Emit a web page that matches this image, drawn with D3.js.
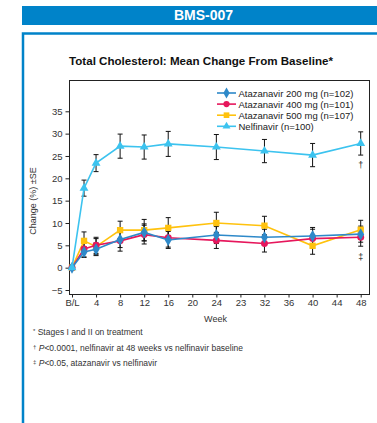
<!DOCTYPE html>
<html>
<head>
<meta charset="utf-8">
<script src="https://cdn.jsdelivr.net/npm/d3@7"></script>
<style>
  body { margin: 0; background: #fff; }
  svg { display: block; font-family: "Liberation Sans", Arial, sans-serif; }
</style>
</head>
<body>
<svg></svg>
<script>
const width = 377;
const height = 423;

const weeks = [0, 2, 4, 8, 12, 16, 24, 32, 40, 48];
const xTicks = [0, 4, 8, 12, 16, 20, 24, 28, 32, 36, 40, 44, 48];
const xTickLabels = ['B/L', '4', '8', '12', '16', '20', '24', '23', '32', '36', '40', '44', '48'];
const yTicks = [-5, 0, 5, 10, 15, 20, 25, 30, 35];

const seriesNames = ['Atazanavir 200 mg (n=102)', 'Atazanavir 400 mg (n=101)', 'Atazanavir 500 mg (n=107)', 'Nelfinavir (n=100)'];
const ata200 = [0, 3.5, 4.1, 6.3, 7.9, 6.2, 7.3, 6.8, 7.1, 7.5];
const ata200Se = [0, 1.2, 1.4, 1.8, 1.9, 1.9, 1.9, 1.8, 1.9, 1.8];
const ata400 = [0, 4.2, 5.0, 6.0, 7.4, 6.7, 6.1, 5.4, 6.5, 6.8];
const ata400Se = [0, 1.8, 1.8, 2.3, 2.1, 2.1, 1.8, 1.9, 2.1, 2.0];
const ata500 = [0, 6.0, 4.7, 8.4, 8.4, 8.9, 10.0, 9.4, 4.9, 8.5];
const ata500Se = [0, 2.0, 1.8, 2.0, 2.4, 2.3, 2.4, 2.1, 1.9, 2.1];
const nelf = [0, 17.8, 23.4, 27.2, 27.0, 27.7, 27.0, 26.1, 25.2, 27.8];
const nelfSe = [0, 1.8, 1.9, 2.7, 2.7, 2.8, 2.8, 2.6, 2.6, 2.6];

const blue = '#0083c9';

window.onload = () => {
  const svg = d3.select('svg')
      .attr('width', width)
      .attr('height', height);

  // header band and frame
  svg.append('rect')
      .attr('x', 22).attr('y', 6).attr('width', 355).attr('height', 19)
      .attr('fill', blue);
  svg.append('text')
      .attr('x', 203.5).attr('y', 20)
      .attr('text-anchor', 'middle')
      .attr('fill', '#fff')
      .attr('font-weight', 'bold')
      .attr('font-size', '14px')
      .text('BMS-007');
  svg.append('path')
      .attr('d', 'M23,423V33.5H377')
      .attr('fill', 'none')
      .attr('stroke', blue)
      .attr('stroke-width', 2.5);

  svg.append('text')
      .attr('x', 201).attr('y', 65)
      .attr('text-anchor', 'middle')
      .attr('font-weight', 'bold')
      .attr('font-size', '11.6px')
      .attr('fill', '#111')
      .text('Total Cholesterol: Mean Change From Baseline*');

  const x = d3.scaleLinear().domain([0, 48]).range([72, 360.7]);
  const y = d3.scaleLinear().domain([-5, 35]).range([290, 111.3]);

  const boxLeft = 69.5, boxRight = 369.5, boxTop = 80.5, boxBottom = 294.5;
  svg.append('rect')
      .attr('x', boxLeft).attr('y', boxTop)
      .attr('width', boxRight - boxLeft).attr('height', boxBottom - boxTop)
      .attr('fill', 'none')
      .attr('stroke', '#222')
      .attr('stroke-width', 1);

  const yAxis = svg.append('g')
      .attr('transform', `translate(${boxLeft},0)`)
      .call(d3.axisLeft(y).tickValues(yTicks).tickSize(4).tickPadding(3));
  yAxis.select('.domain').remove();

  const xAxis = svg.append('g')
      .attr('transform', `translate(0,${boxBottom})`)
      .call(d3.axisBottom(x).tickValues(xTicks).tickSize(3).tickPadding(2)
        .tickFormat((d, i) => xTickLabels[i]));
  xAxis.select('.domain').remove();

  svg.selectAll('.tick line').attr('stroke', '#222');
  svg.selectAll('.tick text')
      .attr('font-family', '"Liberation Sans", Arial, sans-serif')
      .attr('font-size', '9.5px')
      .attr('fill', '#333');

  svg.append('text')
      .attr('transform', 'translate(36,201) rotate(-90)')
      .attr('text-anchor', 'middle')
      .attr('font-size', '9px')
      .attr('fill', '#333')
      .text('Change (%) \u00b1SE');

  svg.append('text')
      .attr('x', 215.5).attr('y', 321.5)
      .attr('text-anchor', 'middle')
      .attr('font-size', '9px')
      .attr('fill', '#333')
      .text('Week');

  const series = [
    { name: seriesNames[2], values: ata500, se: ata500Se, color: '#ffc20e', symbol: d3.symbolSquare, size: 40 },
    { name: seriesNames[1], values: ata400, se: ata400Se, color: '#e6175c', symbol: d3.symbolCircle, size: 38 },
    { name: seriesNames[0], values: ata200, se: ata200Se, color: '#2e89c9', symbol: d3.symbolDiamond, size: 42 },
    { name: seriesNames[3], values: nelf, se: nelfSe, color: '#3cc3ef', symbol: d3.symbolTriangle, size: 34 }
  ];

  // error bars
  series.forEach(s => {
    const g = svg.append('g').attr('stroke', '#111').attr('stroke-width', 1);
    weeks.forEach((w, i) => {
      if (!s.se[i]) return;
      const cx = x(w);
      const y1 = y(s.values[i] + s.se[i]);
      const y2 = y(s.values[i] - s.se[i]);
      g.append('path')
          .attr('d', `M${cx},${y1}V${y2}M${cx - 2.5},${y1}H${cx + 2.5}M${cx - 2.5},${y2}H${cx + 2.5}`)
          .attr('fill', 'none');
    });
  });

  const line = d3.line()
      .x((d, i) => x(weeks[i]))
      .y(d => y(d));

  series.forEach(s => {
    svg.append('path')
        .datum(s.values)
        .attr('d', line)
        .attr('fill', 'none')
        .attr('stroke', s.color)
        .attr('stroke-width', 1.6);
    svg.append('g').selectAll('path')
      .data(s.values)
      .join('path')
        .attr('transform', (d, i) => `translate(${x(weeks[i])},${y(d)})`)
        .attr('d', d3.symbol(s.symbol, s.size))
        .attr('fill', s.color);
  });

  // significance marks
  svg.append('text')
      .attr('x', x(48)).attr('y', y(nelf[9] - nelfSe[9]) + 13)
      .attr('text-anchor', 'middle')
      .attr('font-size', '9px')
      .attr('fill', '#222')
      .text('\u2020');
  svg.append('text')
      .attr('x', x(48)).attr('y', y(ata400[9] - ata400Se[9]) + 14)
      .attr('text-anchor', 'middle')
      .attr('font-size', '9px')
      .attr('fill', '#222')
      .text('\u2021');

  // legend
  const legendOrder = [series[2], series[1], series[0], series[3]];
  const legend = svg.append('g').attr('transform', 'translate(217,93)');
  legendOrder.forEach((s, i) => {
    const row = legend.append('g').attr('transform', `translate(0,${i * 11.1})`);
    row.append('line')
        .attr('x1', 0).attr('x2', 19)
        .attr('stroke', s.color)
        .attr('stroke-width', 1.6);
    row.append('path')
        .attr('transform', 'translate(9.5,0)')
        .attr('d', d3.symbol(s.symbol, s.size * 0.8))
        .attr('fill', s.color);
    row.append('text')
        .attr('x', 21.5).attr('y', 3.5)
        .attr('font-size', '9.5px')
        .attr('fill', '#222')
        .text(s.name);
  });

  // footnotes
  const notes = svg.append('g')
      .attr('font-size', '8.5px')
      .attr('fill', '#333');
  const n1 = notes.append('text').attr('x', 33).attr('y', 335);
  n1.append('tspan').attr('font-size', '6px').attr('dy', -2).text('*');
  n1.append('tspan').attr('dy', 2).text(' Stages I and II on treatment');
  const n2 = notes.append('text').attr('x', 33).attr('y', 351);
  n2.append('tspan').attr('font-size', '6px').attr('dy', -2).text('\u2020');
  n2.append('tspan').attr('dy', 2).attr('font-style', 'italic').text(' P');
  n2.append('tspan').text('<0.0001, nelfinavir at 48 weeks vs nelfinavir baseline');
  const n3 = notes.append('text').attr('x', 33).attr('y', 366);
  n3.append('tspan').attr('font-size', '6px').attr('dy', -2).text('\u2021');
  n3.append('tspan').attr('dy', 2).attr('font-style', 'italic').text(' P');
  n3.append('tspan').text('<0.05, atazanavir vs nelfinavir');
};
</script>
</body>
</html>
